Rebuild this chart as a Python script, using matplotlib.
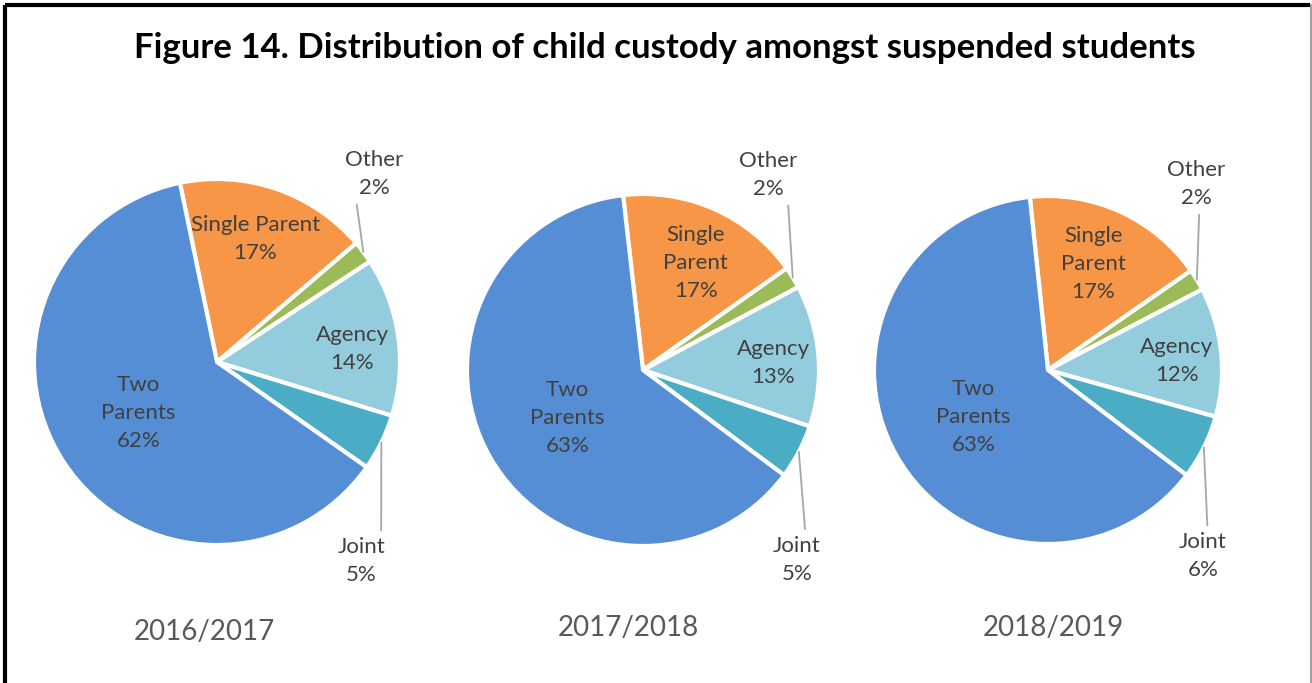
import numpy as np
import matplotlib.pyplot as plt

plt.rcParams['font.family'] = ['Lato', 'DejaVu Sans']

W, H = 1312, 683

years = ["2016/2017", "2017/2018", "2018/2019"]
categories = ["Single Parent", "Other", "Agency", "Joint", "Two Parents"]
shares_1617 = [17, 2, 14, 5, 62]
shares_1718 = [17, 2, 13, 5, 63]
shares_1819 = [17, 2, 12, 6, 63]
colors = ["#F79646", "#9BBB59", "#93CDDD", "#4BACC6", "#558ED5"]

# how the category names wrap inside each pie
names_1617 = ["Single Parent", "Other", "Agency", "Joint", "Two\nParents"]
names_wrapped = ["Single\nParent", "Other", "Agency", "Joint", "Two\nParents"]

# pie layout in pixels (centre x, centre y from top, radius, tilt of first slice)
pies = [
    dict(data=shares_1617, names=names_1617, cx=217, cy=362, r=183, tilt=11.7,
         lab=[(0.21, 0.67), (0.86, 1.03), (0.74, 0.07), (0.79, -1.09), (-0.43, -0.28)],
         rel_other=0.18, rel_joint=0.91, year_xy=(204, 632)),
    dict(data=shares_1718, names=names_wrapped, cx=643, cy=370, r=176, tilt=6.5,
         lab=[(0.30, 0.61), (0.71, 1.11), (0.74, 0.04), (0.875, -1.08), (-0.43, -0.27)],
         rel_other=0.84, rel_joint=0.68, year_xy=(628, 628)),
    dict(data=shares_1819, names=names_wrapped, cx=1048, cy=370, r=174, tilt=6.0,
         lab=[(0.26, 0.61), (0.85, 1.07), (0.74, 0.05), (0.89, -1.07), (-0.43, -0.27)],
         rel_other=0.56, rel_joint=0.60, year_xy=(1053, 628)),
]

fig = plt.figure(figsize=(W / 100, H / 100), dpi=100)
ax = fig.add_axes([0, 0, 1, 1])

txt_col = "#404040"
lab_size = 16

for p, year in zip(pies, years):
    cx, cy, r = p["cx"], H - p["cy"], p["r"]
    wedges, _ = ax.pie(p["data"], colors=colors, startangle=90 + p["tilt"],
                       counterclock=False, center=(cx, cy), radius=r, frame=True,
                       wedgeprops=dict(edgecolor="white", linewidth=3))
    for i, (w, name, val) in enumerate(zip(wedges, p["names"], p["data"])):
        label = f"{name}\n{val}%"
        lx, ly = cx + p["lab"][i][0] * r, cy + p["lab"][i][1] * r
        if name in ("Other", "Joint"):
            mid = np.deg2rad((w.theta1 + w.theta2) / 2)
            ex, ey = cx + r * np.cos(mid), cy + r * np.sin(mid)
            rel = (p["rel_other"], 0) if name == "Other" else (p["rel_joint"], 1)
            ax.annotate(label, xy=(ex, ey), xytext=(lx, ly), ha="center", va="center",
                        fontsize=lab_size, color=txt_col, linespacing=1.5,
                        arrowprops=dict(arrowstyle="-", color="#A6A6A6", lw=1.3,
                                        relpos=rel, shrinkA=3, shrinkB=0))
        else:
            ax.text(lx, ly, label, ha="center", va="center", fontsize=lab_size,
                    color=txt_col, linespacing=1.5)
    ax.text(p["year_xy"][0], H - p["year_xy"][1], year, ha="center", va="center",
            fontsize=20, color="#595959")

ax.text(665, H - 48, "Figure 14. Distribution of child custody amongst suspended students",
        ha="center", va="center", fontsize=25, fontweight="bold", color="black")

# frame around the chart area
ax.plot([5, 1310], [H - 5, H - 5], color="black", lw=3, solid_capstyle="butt")
ax.plot([5, 5], [H - 5, 0], color="black", lw=3, solid_capstyle="butt")
ax.plot([1311, 1311], [H - 5, 0], color="#A0A0A0", lw=1.5)

ax.set_xlim(0, W)
ax.set_ylim(0, H)
ax.set_aspect("equal")
ax.axis("off")

fig.savefig("out.png", dpi=100)
